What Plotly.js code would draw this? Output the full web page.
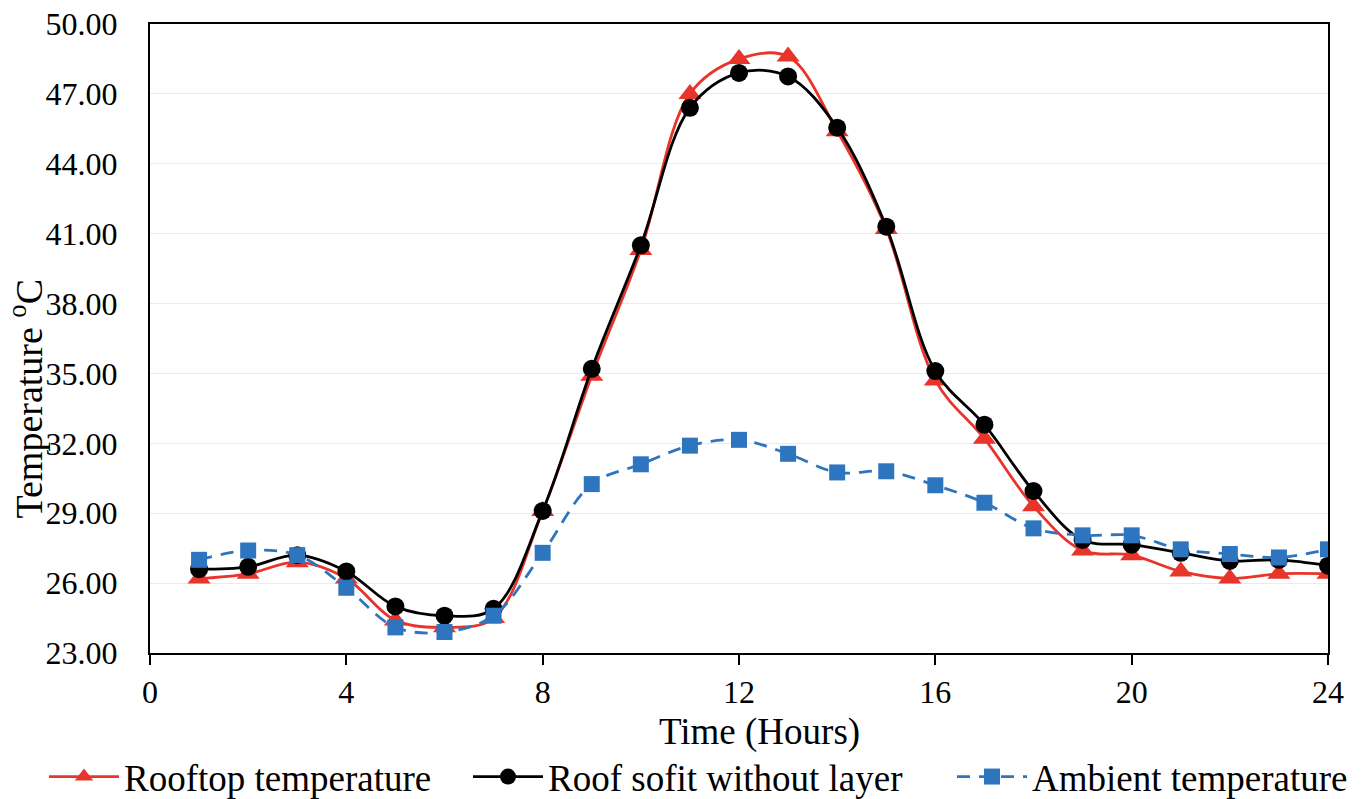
<!DOCTYPE html>
<html>
<head>
<meta charset="utf-8">
<script src="https://cdn.plot.ly/plotly-3.0.1.min.js"></script>
<style>html,body{margin:0;padding:0;background:#fff;}#chart{width:1363px;height:799px;}</style>
</head>
<body>
<div id="chart"></div>
<script>
const hours = [1,2,3,4,5,6,7,8,9,10,11,12,13,14,15,16,17,18,19,20,21,22,23,24];
const rooftop = [26.2,26.4,26.9,26.2,24.4,24.1,24.5,29.1,34.9,40.3,47.0,48.5,48.6,45.4,41.2,34.7,32.2,29.3,27.4,27.2,26.5,26.2,26.4,26.4];
const roofSofit = [26.6,26.7,27.2,26.5,25.0,24.6,24.9,29.1,35.2,40.5,46.4,47.9,47.75,45.55,41.3,35.1,32.8,29.95,27.85,27.65,27.3,26.95,27.0,26.75];
const ambient = [27.0,27.4,27.2,25.8,24.1,23.9,24.6,27.3,30.25,31.1,31.9,32.15,31.55,30.75,30.8,30.2,29.45,28.35,28.05,28.05,27.45,27.25,27.1,27.45];
const seriesNames = ["Rooftop temperature","Roof sofit without layer","Ambient temperature"];
const xTicks = [0,4,8,12,16,20,24];
const yTicks = [23,26,29,32,35,38,41,44,47,50];
const xTitle = "Time (Hours)";
const yTitle = "Temperature <sup>o</sup>C";

const font = "Liberation Serif, Times New Roman, serif";
const traces = [
  {x: hours, y: rooftop, name: seriesNames[0], mode: "lines+markers", legend: "legend",
   line: {color: "#e8342a", width: 2.8, shape: "spline", smoothing: 1},
   marker: {symbol: "triangle-up", size: 20, color: "#e8342a"}},
  {x: hours, y: roofSofit, name: seriesNames[1], mode: "lines+markers", legend: "legend2",
   line: {color: "#000000", width: 2.8, shape: "spline", smoothing: 1},
   marker: {symbol: "circle", size: 18, color: "#000000"}},
  {x: hours, y: ambient, name: seriesNames[2], mode: "lines+markers", legend: "legend3",
   line: {color: "#2e75c0", width: 2.8, shape: "spline", smoothing: 1, dash: "13px,9px"},
   marker: {symbol: "square", size: 16, color: "#2e75c0"}}
];
function leg(px) {
  return {orientation: "h", xref: "container", x: px / 1363, xanchor: "left",
          yref: "container", y: 777 / 799 > 0 ? (799 - 777) / 799 : 0, yanchor: "middle",
          bgcolor: "rgba(0,0,0,0)", itemwidth: 70,
          font: {family: font, size: 37, color: "#000"}};
}
const layout = {
  width: 1363, height: 799,
  margin: {l: 150, r: 35, t: 24, b: 146},
  paper_bgcolor: "#fff", plot_bgcolor: "#fff",
  font: {family: font, color: "#000"},
  showlegend: true,
  legend: leg(44),
  legend2: leg(468),
  legend3: leg(952),
  xaxis: {range: [0, 24], tickvals: xTicks, ticktext: xTicks.map(String),
          ticks: "outside", ticklen: 10, tickwidth: 2, tickcolor: "#000",
          showline: true, linecolor: "#000", linewidth: 2, mirror: true,
          showgrid: false, zeroline: false,
          tickfont: {family: font, size: 32, color: "#000"}},
  yaxis: {range: [23, 50], tickvals: yTicks, ticktext: yTicks.map(v => v.toFixed(2)),
          ticks: "", showline: true, linecolor: "#000", linewidth: 2, mirror: true,
          showgrid: true, gridcolor: "#ebebeb", gridwidth: 1, zeroline: false,
          ticklabelstandoff: 24,
          tickfont: {family: font, size: 32, color: "#000"}},
  annotations: [
    {text: yTitle, textangle: -90, showarrow: false,
     xref: "paper", yref: "paper", x: (26 - 150) / 1178, y: (653 - 399) / 628,
     xanchor: "center", yanchor: "middle",
     font: {family: font, size: 38, color: "#000"}},
    {text: xTitle, showarrow: false,
     xref: "paper", yref: "paper", x: (759 - 150) / 1178, y: (653 - 732) / 628,
     xanchor: "center", yanchor: "middle",
     font: {family: font, size: 37, color: "#000"}}
  ]
};
Plotly.newPlot("chart", traces, layout, {displayModeBar: false});
</script>
</body>
</html>
